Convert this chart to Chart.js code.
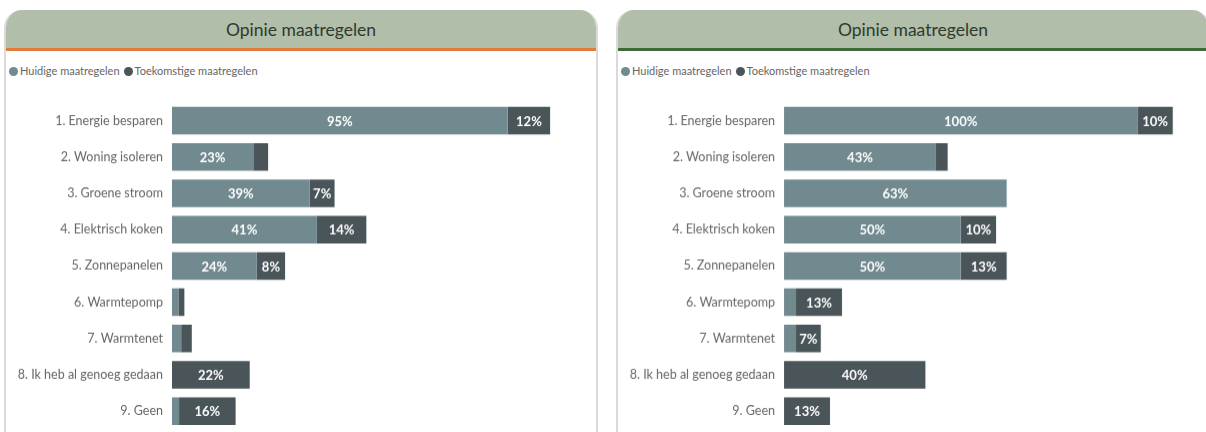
<!DOCTYPE html>
<html>
<head>
<meta charset="utf-8">
<script src="https://cdn.jsdelivr.net/npm/chart.js@4"></script>
<style>
  html, body { margin:0; padding:0; background:#ffffff; width:1206px; height:432px; overflow:hidden; }
  .panel { position:absolute; top:10px; height:440px; box-sizing:border-box;
           border-left:2px solid #dadada; border-right:2px solid #dadada;
           border-radius:18px 18px 0 0; overflow:hidden; background:#fff; }
  .header { position:absolute; left:-2px; right:-2px; top:0; height:38px; background:#b1bea9;
            font-family:Lato, "Open Sans", sans-serif; font-size:17.5px; color:#2e3a2e;
            text-align:center; line-height:40px; }
  .legend { position:absolute; left:3px; top:55px; font-family:Lato, sans-serif; font-size:11px; color:#666;
            white-space:nowrap; line-height:12px; }
  .legend span.dot { display:inline-block; width:9px; height:9px; border-radius:50%; vertical-align:-1px; margin-right:2px; }
  .legend span.item { margin-right:4px; }
  .chartbox { position:absolute; left:0; top:75.9px; width:583px; height:358.8px; }
</style>
</head>
<body>
<div class="panel" id="p1" style="left:4px; width:594px;">
  <div class="header" style="border-bottom:3px solid #e07d3c;">Opinie maatregelen</div>
  <div class="legend" id="lg1"></div>
  <div class="chartbox"><canvas id="c1"></canvas></div>
</div>
<div class="panel" id="p2" style="left:616px; width:594px;">
  <div class="header" style="border-bottom:3px solid #3e6a35;">Opinie maatregelen</div>
  <div class="legend" id="lg2"></div>
  <div class="chartbox"><canvas id="c2"></canvas></div>
</div>
<script>
const categories = ['1. Energie besparen', '2. Woning isoleren', '3. Groene stroom', '4. Elektrisch koken',
  '5. Zonnepanelen', '6. Warmtepomp', '7. Warmtenet', '8. Ik heb al genoeg gedaan', '9. Geen'];
const seriesNames = ['Huidige maatregelen', 'Toekomstige maatregelen'];
const leftCurrent  = [95, 23, 39, 41, 24, 1.8, 2.6, 0, 2];
const leftFuture   = [12, 4.2, 7, 14, 8, 1.7, 3, 22, 16];
const rightCurrent = [100, 43, 63, 50, 50, 3.4, 3.4, 0, 0];
const rightFuture  = [10, 3.3, 0, 10, 13, 13, 7, 40, 13];
const colors = ['#718a8f', '#4a5559'];

const barLabels = {
  id: 'barLabels',
  afterDatasetsDraw(chart) {
    const ctx = chart.ctx;
    ctx.save();
    ctx.font = 'bold 13px Lato, sans-serif';
    ctx.fillStyle = '#ffffff';
    ctx.textAlign = 'center';
    ctx.textBaseline = 'middle';
    chart.data.datasets.forEach((ds, di) => {
      const meta = chart.getDatasetMeta(di);
      meta.data.forEach((bar, i) => {
        const v = ds.data[i];
        if (v >= 5) {
          ctx.fillText(Math.round(v) + '%', (bar.x + bar.base) / 2, bar.y + 1);
        }
      });
    });
    ctx.restore();
  }
};

function makeLegend(id) {
  const el = document.getElementById(id);
  el.innerHTML = seriesNames.map((n, i) =>
    '<span class="item"><span class="dot" style="background:' + colors[i] + '"></span>' + n + '</span>').join('');
}

function makeChart(id, cur, fut) {
  return new Chart(document.getElementById(id), {
    type: 'bar',
    data: {
      labels: categories,
      datasets: [
        { label: seriesNames[0], data: cur, backgroundColor: colors[0], borderWidth: 0,
          categoryPercentage: 1, barPercentage: 0.76 },
        { label: seriesNames[1], data: fut, backgroundColor: colors[1], borderWidth: 0,
          categoryPercentage: 1, barPercentage: 0.76 }
      ]
    },
    options: {
      indexAxis: 'y',
      responsive: true,
      maintainAspectRatio: false,
      animation: false,
      layout: { padding: 0 },
      plugins: { legend: { display: false }, tooltip: { enabled: false } },
      scales: {
        x: { stacked: true, display: false, min: 0, max: 118 },
        y: {
          stacked: true,
          grid: { display: false, drawTicks: false },
          border: { display: false },
          ticks: { padding: 9, color: '#666', font: { family: 'Lato, sans-serif', size: 12.5 } },
          afterFit(scale) { scale.width = 166; }
        }
      }
    },
    plugins: [barLabels]
  });
}

makeLegend('lg1');
makeLegend('lg2');
makeChart('c1', leftCurrent, leftFuture);
makeChart('c2', rightCurrent, rightFuture);
</script>
</body>
</html>
